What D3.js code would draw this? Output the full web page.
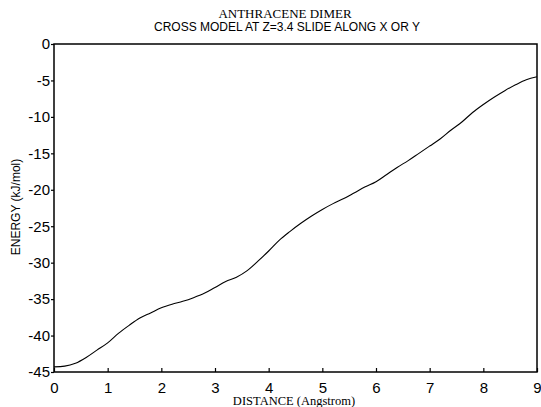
<!DOCTYPE html>
<html>
<head>
  <meta charset="utf-8">
  <script src="https://d3js.org/d3.v7.min.js"></script>
  <style>
    body { margin: 0; background: #fff; }
    svg { display: block; }
    .tick text { font-family: 'Liberation Sans', Arial, sans-serif; font-size: 15px; fill: #000; }
  </style>
</head>
<body>
  <svg width="541" height="407"></svg>
<script>
  // distance (Angstrom) and energy (kJ/mol)
  var distance = [0, 0.2, 0.4, 0.6, 0.8, 1.0, 1.2, 1.4, 1.6, 1.8, 2.0, 2.2, 2.4, 2.6, 2.8, 3.0,
    3.2, 3.4, 3.6, 3.8, 4.0, 4.2, 4.4, 4.6, 4.8, 5.0, 5.2, 5.4, 5.6, 5.8, 6.0,
    6.2, 6.4, 6.6, 6.8, 7.0, 7.2, 7.4, 7.6, 7.8, 8.0, 8.2, 8.4, 8.6, 8.8, 9.0];
  var energy = [-44.3, -44.2, -43.8, -43.0, -42.0, -41.0, -39.7, -38.6, -37.6, -36.9, -36.2, -35.7, -35.3, -34.8, -34.2, -33.4,
    -32.6, -32.0, -31.1, -29.8, -28.4, -26.9, -25.7, -24.6, -23.6, -22.7, -21.9, -21.2, -20.4, -19.6, -18.9,
    -17.9, -16.9, -16.0, -15.0, -14.0, -13.0, -11.8, -10.7, -9.4, -8.3, -7.3, -6.4, -5.6, -4.9, -4.5];
  var xTicks = [0, 1, 2, 3, 4, 5, 6, 7, 8, 9];
  var yTicks = [0, -5, -10, -15, -20, -25, -30, -35, -40, -45];

  var svg = d3.select("svg");
  var plotLeft = 54, plotRight = 537, plotTop = 44, plotBottom = 372;

  var x = d3.scaleLinear().domain([0, 9]).range([plotLeft, plotRight]);
  var y = d3.scaleLinear().domain([-45, 0]).range([plotBottom, plotTop]);

  // frame
  svg.append("rect")
    .attr("x", plotLeft).attr("y", plotTop)
    .attr("width", plotRight - plotLeft).attr("height", plotBottom - plotTop)
    .attr("fill", "none").attr("stroke", "#000").attr("stroke-width", 1.5);

  var plain = function (d) { return String(d); };

  var xAxis = svg.append("g")
    .attr("transform", "translate(0," + plotBottom + ")")
    .call(d3.axisBottom(x).tickValues(xTicks).tickSize(-4).tickPadding(5).tickFormat(plain));
  xAxis.select(".domain").remove();
  xAxis.selectAll("line").attr("stroke-width", 1.2);
  xAxis.selectAll("text").attr("y", 10).attr("dy", "0.71em");

  var yAxis = svg.append("g")
    .attr("transform", "translate(" + plotLeft + ",0)")
    .call(d3.axisLeft(y).tickValues(yTicks).tickSize(3).tickPadding(1).tickFormat(plain));
  yAxis.select(".domain").remove();
  yAxis.selectAll("line").attr("stroke-width", 1.2);

  var line = d3.line()
    .x(function (d, i) { return x(distance[i]); })
    .y(function (d) { return y(d); })
    .curve(d3.curveMonotoneX);

  svg.append("path")
    .datum(energy)
    .attr("d", line)
    .attr("fill", "none")
    .attr("stroke", "#000")
    .attr("stroke-width", 1.1);

  // titles
  svg.append("text")
    .attr("x", 285).attr("y", 18)
    .attr("text-anchor", "middle")
    .style("font-family", "'Liberation Serif', 'Times New Roman', serif")
    .style("font-size", "13px")
    .text("ANTHRACENE DIMER");
  svg.append("text")
    .attr("x", 287).attr("y", 31)
    .attr("text-anchor", "middle")
    .style("font-family", "'Liberation Sans', Arial, sans-serif")
    .style("font-size", "12px")
    .text("CROSS MODEL AT Z=3.4 SLIDE ALONG X OR Y");

  svg.append("text")
    .attr("x", 294).attr("y", 405)
    .attr("text-anchor", "middle")
    .style("font-family", "'Liberation Serif', 'Times New Roman', serif")
    .style("font-size", "12.5px")
    .text("DISTANCE (Angstrom)");

  svg.append("text")
    .attr("transform", "translate(20,207) rotate(-90)")
    .attr("text-anchor", "middle")
    .style("font-family", "'Liberation Sans', Arial, sans-serif")
    .style("font-size", "12px")
    .text("ENERGY (kJ/mol)");
</script>
</body>
</html>
